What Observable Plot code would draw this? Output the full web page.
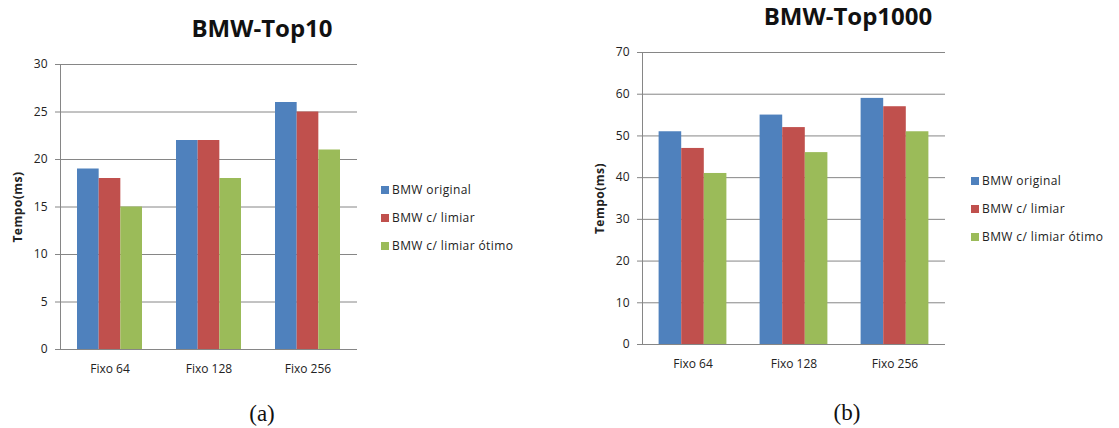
<!DOCTYPE html>
<html>
<head>
<meta charset="utf-8">
<script src="https://cdn.jsdelivr.net/npm/d3@7"></script>
<script src="https://cdn.jsdelivr.net/npm/@observablehq/plot@0.6"></script>
<style>
  body { margin: 0; background: #fff; }
  #page { position: relative; width: 1119px; height: 428px; overflow: hidden; font-family: "Open Sans", sans-serif; color: #222; background: #fff; }
  .abs { position: absolute; }
  .title { font-weight: bold; font-size: 24px; line-height: 24px; white-space: nowrap; transform: translateX(-50%); color: #111; }
  .caption { font-family: "Liberation Serif", "Times New Roman", serif; font-size: 23px; line-height: 23px; white-space: nowrap; transform: translate(-50%, -50%); color: #111; }
  .legend-row { position: absolute; display: flex; align-items: center; font-size: 12px; line-height: 14px; letter-spacing: 0.4px; white-space: nowrap; transform: translateY(-50%); color: #222; }
  .legend-row .sw { width: 8px; height: 8px; margin-right: 3px; flex: none; }
  svg g[aria-label="y-axis label"] text { font-weight: bold; letter-spacing: 0.5px; }
</style>
</head>
<body>
<div id="page"></div>
<script>
// Categories, series and measured times (ms)
const categories = ["Fixo 64", "Fixo 128", "Fixo 256"];
const series = ["BMW original", "BMW c/ limiar", "BMW c/ limiar ótimo"];
const colors = ["#4F81BD", "#C0504D", "#9BBB59"];

const top10Original = [19, 22, 26];
const top10Limiar   = [18, 22, 25];
const top10Otimo    = [15, 18, 21];
const top10Ticks    = [0, 5, 10, 15, 20, 25, 30];

const top1000Original = [51, 55, 59];
const top1000Limiar   = [47, 52, 57];
const top1000Otimo    = [41, 46, 51];
const top1000Ticks    = [0, 10, 20, 30, 40, 50, 60, 70];

function toRows(valuesBySeries) {
  const rows = [];
  categories.forEach((category, i) => {
    series.forEach((s, j) => rows.push({category, series: s, value: valuesBySeries[j][i]}));
  });
  return rows;
}

function barChart({rows, ticks, width, height, marginLeft, marginRight, marginTop, marginBottom, xPad}) {
  return Plot.plot({
    width, height, marginLeft, marginRight, marginTop, marginBottom,
    style: {fontFamily: '"Open Sans", sans-serif', fontSize: "12px", color: "#222", background: "transparent", overflow: "visible"},
    fx: {domain: categories, padding: 0, round: false, label: null},
    x: {domain: series, axis: null, paddingInner: 0, paddingOuter: xPad, round: false},
    y: {domain: [ticks[0], ticks[ticks.length - 1]], label: "Tempo(ms)"},
    color: {domain: series, range: colors},
    marks: [
      Plot.gridY(ticks, {stroke: "#868686", strokeOpacity: 1, strokeWidth: 1}),
      Plot.barY(rows, {fx: "category", x: "series", y: "value", fill: "series"}),
      Plot.ruleY([0], {stroke: "#868686", strokeWidth: 1}),
      Plot.frame({anchor: "left", facetAnchor: "left", stroke: "#868686", strokeWidth: 1}),
      Plot.axisY({ticks, tickSize: 5, tickPadding: 8, stroke: "#868686", fill: "#222",
                  label: "Tempo(ms)", labelAnchor: "center", labelOffset: 47, labelArrow: "none"}),
      Plot.axisFx({anchor: "bottom", tickSize: 0, tickPadding: 15, label: null, fill: "#222"})
    ]
  });
}

const page = document.getElementById("page");

function place(el, left, top) {
  el.classList.add("abs");
  el.style.left = left + "px";
  el.style.top = top + "px";
  page.appendChild(el);
  return el;
}

function addText(cls, text, left, top) {
  const d = document.createElement("div");
  d.className = cls;
  d.textContent = text;
  return place(d, left, top);
}

function addLegend(left, firstCenter, step) {
  series.forEach((s, i) => {
    const row = document.createElement("div");
    row.className = "legend-row";
    const sw = document.createElement("span");
    sw.className = "sw";
    sw.style.background = colors[i];
    const label = document.createElement("span");
    label.textContent = s;
    row.append(sw, label);
    row.style.left = left + "px";
    row.style.top = (firstCenter + i * step) + "px";
    page.appendChild(row);
  });
}

// (a) BMW-Top10
const chartA = barChart({
  rows: toRows([top10Original, top10Limiar, top10Otimo]),
  ticks: top10Ticks,
  width: 370, height: 344,
  marginLeft: 60, marginRight: 13, marginTop: 24, marginBottom: 35,
  xPad: 0.785
});
place(chartA, 0, 40);
addText("title", "BMW-Top10", 262, 16);
addLegend(381, 190, 28);
addText("caption", "(a)", 262, 413);

// (b) BMW-Top1000
const chartB = barChart({
  rows: toRows([top1000Original, top1000Limiar, top1000Otimo]),
  ticks: top1000Ticks,
  width: 380, height: 349,
  marginLeft: 62, marginRight: 15, marginTop: 22, marginBottom: 35,
  xPad: 0.735
});
place(chartB, 580, 30);
addText("title", "BMW-Top1000", 848, 4);
addLegend(971, 181, 28);
addText("caption", "(b)", 847, 412);
</script>
</body>
</html>
